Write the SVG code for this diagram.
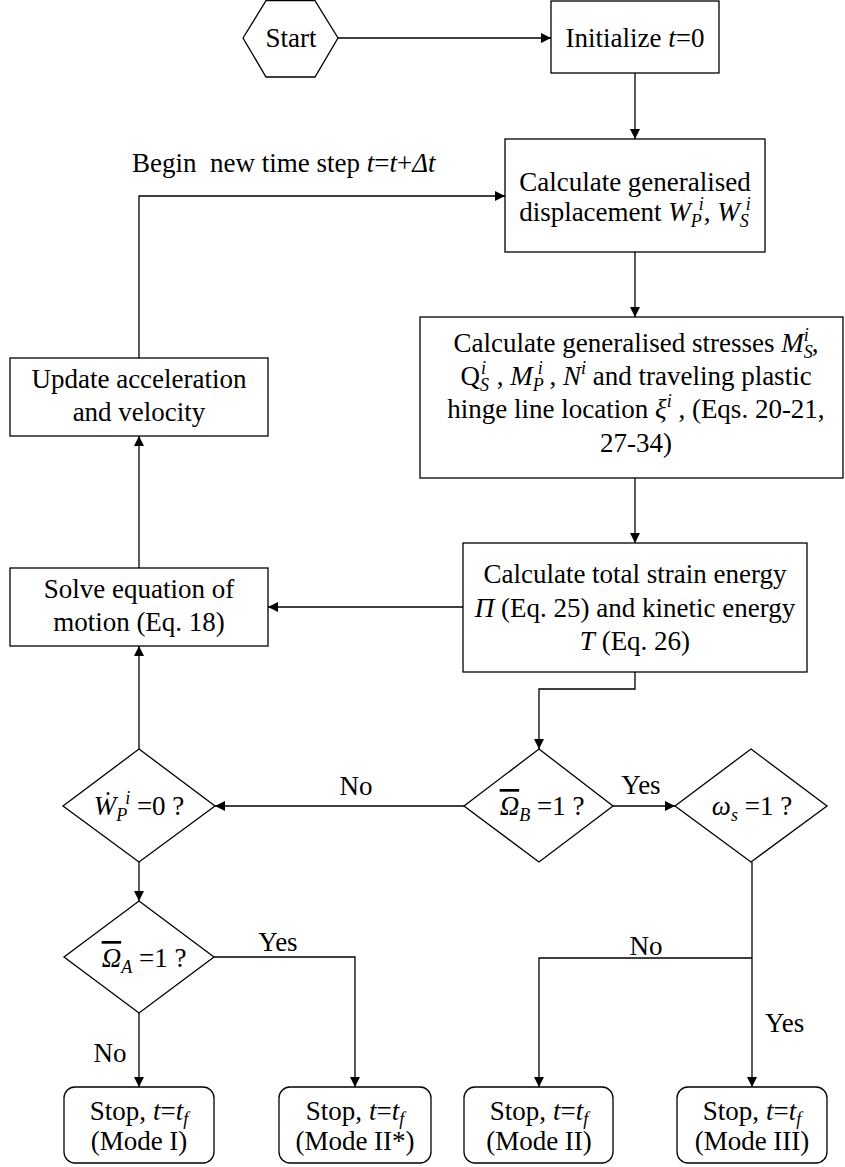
<svg xmlns="http://www.w3.org/2000/svg" width="845" height="1167" viewBox="0 0 845 1167">
<style>
.bx{fill:#fff;stroke:#000;stroke-width:1.3}
.c{fill:none;stroke:#000;stroke-width:1.3}
.t{font-family:"Liberation Serif","Times New Roman",Times,"DejaVu Serif",serif;font-size:27px;fill:#000;text-anchor:middle}
.l{font-family:"Liberation Serif","Times New Roman",Times,"DejaVu Serif",serif;font-size:27px;fill:#000}
.i{font-style:italic}
.s{font-size:18px}
.ov{text-decoration:overline}
</style>
<defs>
<marker id="ah" markerWidth="11" markerHeight="11" refX="10" refY="5" orient="auto" markerUnits="userSpaceOnUse">
<path d="M0,0 L10,5 L0,10 z" fill="#000"/>
</marker>
</defs>
<rect width="845" height="1167" fill="#fff"/>

<g id="connectors">
<path class="c" d="M338,38 H551" marker-end="url(#ah)"/>
<path class="c" d="M635,73 V139" marker-end="url(#ah)"/>
<path class="c" d="M139,358 V196 H505" marker-end="url(#ah)"/>
<path class="c" d="M635,252 V317" marker-end="url(#ah)"/>
<path class="c" d="M635,478 V543" marker-end="url(#ah)"/>
<path class="c" d="M463,607 H268" marker-end="url(#ah)"/>
<path class="c" d="M139,568 V436" marker-end="url(#ah)"/>
<path class="c" d="M635,672 V689 H539 V749" marker-end="url(#ah)"/>
<path class="c" d="M139,749 V646" marker-end="url(#ah)"/>
<path class="c" d="M464,806 H215" marker-end="url(#ah)"/>
<path class="c" d="M613,806 H675" marker-end="url(#ah)"/>
<path class="c" d="M139,862 V901" marker-end="url(#ah)"/>
<path class="c" d="M139,1013 V1087" marker-end="url(#ah)"/>
<path class="c" d="M214,957 H355 V1087" marker-end="url(#ah)"/>
<path class="c" d="M752,862 V1087" marker-end="url(#ah)"/>
<path class="c" d="M752,958 H539 V1087" marker-end="url(#ah)"/>
<text class="l" x="132" y="172">Begin&#160; new time step <tspan class="i">t</tspan>=<tspan class="i">t</tspan>+<tspan class="i">Δt</tspan></text>
<text class="t" x="356" y="795">No</text>
<text class="t" x="641" y="794">Yes</text>
<text class="t" x="278" y="951">Yes</text>
<text class="t" x="646" y="955">No</text>
<text class="l" x="765" y="1032">Yes</text>
<text class="t" x="110" y="1062">No</text>
</g>

<g id="start">
<polygon class="bx" points="243,38 266,0.7 315,0.7 338,38 315,77 266,77"/>
<text class="t" x="291" y="47">Start</text>
</g>

<g id="init">
<rect class="bx" x="551" y="1" width="168" height="72"/>
<text class="t" x="635" y="47">Initialize <tspan class="i">t</tspan>=0</text>
</g>

<g id="disp">
<rect class="bx" x="505" y="139" width="260" height="113"/>
<text class="t" x="635" y="191">Calculate generalised</text>
<text class="t" x="635" y="221">displacement <tspan class="i">W</tspan><tspan class="i s" dy="6">P</tspan><tspan class="i s" dx="-3" dy="-17">i</tspan><tspan dy="11">, </tspan><tspan class="i">W</tspan><tspan class="i s" dy="6">S</tspan><tspan class="i s" dx="-3" dy="-17">i</tspan></text>
</g>

<g id="stresses">
<rect class="bx" x="420" y="317" width="423" height="161"/>
<text class="t" x="636" y="352">Calculate generalised stresses <tspan class="i">M</tspan><tspan class="i s" dy="6">S</tspan><tspan class="i s" dx="-9" dy="-17">i</tspan><tspan dx="3" dy="11">,</tspan></text>
<text class="t" x="636" y="385">Q<tspan class="i s" dy="6">S</tspan><tspan class="i s" dx="-8" dy="-17">i</tspan><tspan dx="4" dy="11"> , </tspan><tspan class="i">M</tspan><tspan class="i s" dy="6">P</tspan><tspan class="i s" dx="-6" dy="-17">i</tspan><tspan dy="11"> , </tspan><tspan class="i">N</tspan><tspan class="i s" dy="-11">i</tspan><tspan dy="11"> and traveling plastic</tspan></text>
<text class="t" x="636" y="418">hinge line location <tspan class="i">ξ</tspan><tspan class="i s" dy="-11">i</tspan><tspan dy="11"> , (Eqs. 20-21,</tspan></text>
<text class="t" x="636" y="452">27-34)</text>
</g>

<g id="update">
<rect class="bx" x="10" y="358" width="258" height="78"/>
<text class="t" x="139" y="388">Update acceleration</text>
<text class="t" x="139" y="421">and velocity</text>
</g>

<g id="energy">
<rect class="bx" x="463" y="543" width="344" height="129"/>
<text class="t" x="635" y="583">Calculate total strain energy</text>
<text class="t" x="635" y="617"><tspan class="i">Π</tspan> (Eq. 25) and kinetic energy</text>
<text class="t" x="635" y="650"><tspan class="i">T</tspan> (Eq. 26)</text>
</g>

<g id="solve">
<rect class="bx" x="10" y="568" width="258" height="78"/>
<text class="t" x="139" y="598">Solve equation of</text>
<text class="t" x="139" y="631">motion (Eq. 18)</text>
</g>

<g id="d-wp">
<polygon class="bx" points="139,749 215,806 139,862 63,806"/>
<text class="t" x="139" y="815"><tspan class="i">Ẇ</tspan><tspan class="i s" dy="6">P</tspan><tspan class="i s" dx="-2" dy="-17">i</tspan><tspan dy="11"> =0 ?</tspan></text>
</g>

<g id="d-ob">
<polygon class="bx" points="539,749 613,806 539,862 464,806"/>
<text class="t" x="542" y="815"><tspan class="i ov">Ω</tspan><tspan class="i s" dy="6">B</tspan><tspan dy="-6"> =1 ?</tspan></text>
</g>

<g id="d-ws">
<polygon class="bx" points="751,749 827,806 751,862 675,806"/>
<text class="t" x="752" y="815"><tspan class="i">ω</tspan><tspan class="i s" dy="6">s</tspan><tspan dy="-6"> =1 ?</tspan></text>
</g>

<g id="d-oa">
<polygon class="bx" points="139,901 214,957 139,1013 64,957"/>
<text class="t" x="144" y="967"><tspan class="i ov">Ω</tspan><tspan class="i s" dy="6">A</tspan><tspan dy="-6"> =1 ?</tspan></text>
</g>

<g id="stop1">
<rect class="bx" x="64" y="1087" width="150" height="76" rx="11"/>
<text class="t" x="139" y="1120">Stop, <tspan class="i">t</tspan>=<tspan class="i">t</tspan><tspan class="i s" dy="5">f</tspan></text>
<text class="t" x="139" y="1150">(Mode I)</text>
</g>

<g id="stop2">
<rect class="bx" x="279" y="1087" width="152" height="76" rx="11"/>
<text class="t" x="355" y="1120">Stop, <tspan class="i">t</tspan>=<tspan class="i">t</tspan><tspan class="i s" dy="5">f</tspan></text>
<text class="t" x="355" y="1150">(Mode II*)</text>
</g>

<g id="stop3">
<rect class="bx" x="464" y="1087" width="149" height="76" rx="11"/>
<text class="t" x="539" y="1120">Stop, <tspan class="i">t</tspan>=<tspan class="i">t</tspan><tspan class="i s" dy="5">f</tspan></text>
<text class="t" x="539" y="1150">(Mode II)</text>
</g>

<g id="stop4">
<rect class="bx" x="677" y="1087" width="150" height="76" rx="11"/>
<text class="t" x="752" y="1120">Stop, <tspan class="i">t</tspan>=<tspan class="i">t</tspan><tspan class="i s" dy="5">f</tspan></text>
<text class="t" x="752" y="1150">(Mode III)</text>
</g>
</svg>
